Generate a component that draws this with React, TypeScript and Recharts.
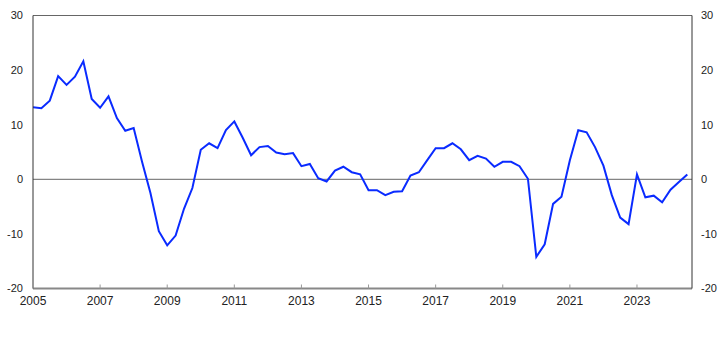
import { LineChart, Line, XAxis, YAxis, ReferenceLine } from 'recharts';

// quarterly observations, 2005Q1 .. 2024Q3
const startYear = 2005;
const values = [
  13.2, 13.0, 14.4, 18.9, 17.3, 18.8, 21.6, 14.7, 13.1, 15.2,
  11.2, 8.9, 9.4, 3.2, -2.5, -9.5, -12.1, -10.3, -5.4, -1.6,
  5.4, 6.6, 5.7, 9.0, 10.6, 7.6, 4.4, 5.9, 6.1, 4.9,
  4.6, 4.8, 2.4, 2.8, 0.2, -0.4, 1.6, 2.3, 1.3, 0.9,
  -2.0, -2.0, -2.9, -2.3, -2.2, 0.7, 1.3, 3.5, 5.7, 5.7,
  6.6, 5.5, 3.5, 4.3, 3.8, 2.3, 3.2, 3.2, 2.4, 0.1,
  -14.2, -11.9, -4.5, -3.2, 3.5, 9.0, 8.6, 5.9, 2.5, -2.9,
  -7.0, -8.2, 0.9, -3.3, -3.0, -4.2, -1.9, -0.5, 0.9,
];
const xTicks = [2005, 2007, 2009, 2011, 2013, 2015, 2017, 2019, 2021, 2023];
const yTicks = [-20, -10, 0, 10, 20, 30];

const data = values.map((v, i) => ({ t: startYear + i / 4, v }));

const font = '"Liberation Sans", Arial, sans-serif';

function XTick(props: any) {
  const { x, y, payload } = props;
  const axisY = y - 8;
  return (
    <g>
      <line x1={x} x2={x} y1={axisY} y2={axisY - 4} stroke="#999" strokeWidth={1} />
      <text x={x} y={y} dy="0.71em" textAnchor="middle" fill="#222" fontSize={12} fontFamily={font}>
        {payload.value}
      </text>
    </g>
  );
}

export default function App() {
  return (
    <div style={{ width: 722, height: 361, background: '#fff' }}>
      <style>{'body{margin:0}'}</style>
      <LineChart width={722} height={361} data={data} margin={{ top: 15.5, right: 0, bottom: 42.5, left: 0 }}>
        <XAxis
          dataKey="t"
          type="number"
          domain={[2005, 2024.64]}
          allowDataOverflow
          ticks={xTicks}
          tick={<XTick />}
          tickLine={false}
          tickSize={0}
          tickMargin={8}
          height={30}
          axisLine={{ stroke: '#888', strokeWidth: 2 }}
        />
        <YAxis
          yAxisId="left"
          domain={[-20, 30]}
          ticks={yTicks}
          width={33}
          tickLine={false}
          tickSize={0}
          tickMargin={10}
          axisLine={{ stroke: '#333' }}
          tick={{ fill: '#222', fontSize: 11, fontFamily: font }}
        />
        <YAxis
          yAxisId="right"
          orientation="right"
          domain={[-20, 30]}
          ticks={yTicks}
          width={30}
          tickLine={false}
          tickSize={0}
          tickMargin={9}
          axisLine={{ stroke: '#333' }}
          tick={{ fill: '#222', fontSize: 11, fontFamily: font }}
        />
        <ReferenceLine yAxisId="left" y={30} stroke="#666" />
        <ReferenceLine yAxisId="left" y={0} stroke="#666" />
        <Line
          yAxisId="right"
          type="linear"
          dataKey="v"
          stroke="none"
          dot={false}
          activeDot={false}
          isAnimationActive={false}
        />
        <Line
          yAxisId="left"
          type="linear"
          dataKey="v"
          stroke="#0a2bff"
          strokeWidth={2}
          dot={false}
          isAnimationActive={false}
        />
      </LineChart>
    </div>
  );
}
